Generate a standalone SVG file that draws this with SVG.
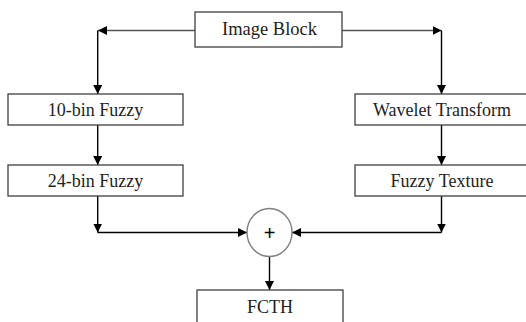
<svg xmlns="http://www.w3.org/2000/svg" width="526" height="322" viewBox="0 0 526 322">
<defs>
<style>
.box{fill:#fff;stroke:#404040;stroke-width:1.3}
.lbl{font-family:"Liberation Serif","Times New Roman",serif;font-size:18px;fill:#1e1e1e;text-anchor:middle}
.ln{fill:none;stroke:#000;stroke-width:1.4}
.lg{fill:none;stroke:#555;stroke-width:1.4}
</style>
<marker id="ah" markerWidth="9" markerHeight="9" refX="9" refY="4.5" orient="auto" markerUnits="userSpaceOnUse">
<path d="M0,0 L9,4.5 L0,9 Z" fill="#000"/>
</marker>
</defs>
<rect width="526" height="322" fill="#fff"/>
<g id="connectors">
<path class="lg" d="M195,30.5 H98" marker-end="url(#ah)"/>
<path class="lg" d="M342,30.5 H441.5" marker-end="url(#ah)"/>
<path class="ln" d="M97.7,30.5 V94" marker-end="url(#ah)"/>
<path class="ln" d="M441.5,30.5 V94" marker-end="url(#ah)"/>
<path class="ln" d="M97.7,125 V165" marker-end="url(#ah)"/>
<path class="ln" d="M441.5,125 V165" marker-end="url(#ah)"/>
<path class="ln" d="M97.7,196 V232.5" marker-end="url(#ah)"/>
<path class="ln" d="M441.5,196 V232.5" marker-end="url(#ah)"/>
<path class="ln" d="M97.7,232.5 H247" marker-end="url(#ah)"/>
<path class="ln" d="M441.5,232.5 H292" marker-end="url(#ah)"/>
<path class="ln" d="M269.5,256.5 V290" marker-end="url(#ah)"/>
</g>
<g id="image-block">
<rect class="box" x="195" y="12" width="147" height="35"/>
<text class="lbl" x="269.5" y="34.5" style="font-size:18.5px">Image Block</text>
</g>
<g id="bin10">
<rect class="box" x="8" y="94" width="175" height="31"/>
<text class="lbl" x="95.5" y="115.5">10-bin Fuzzy</text>
</g>
<g id="wavelet">
<rect class="box" x="355" y="94" width="175" height="31"/>
<text class="lbl" x="442" y="115.5">Wavelet Transform</text>
</g>
<g id="bin24">
<rect class="box" x="8" y="165" width="175" height="31"/>
<text class="lbl" x="95.5" y="187">24-bin Fuzzy</text>
</g>
<g id="fuzzy-texture">
<rect class="box" x="355" y="165" width="175" height="31"/>
<text class="lbl" x="442" y="187">Fuzzy Texture</text>
</g>
<g id="sum">
<ellipse cx="269.5" cy="232.5" rx="22.5" ry="24" fill="#fff" stroke="#808080" stroke-width="1.4"/>
<text x="269.5" y="239.5" style="font-family:'Liberation Sans',Arial,sans-serif;font-size:20px;fill:#000;text-anchor:middle">+</text>
</g>
<g id="fcth">
<rect class="box" x="197" y="290" width="146" height="40"/>
<text class="lbl" x="270" y="312.5">FCTH</text>
</g>
</svg>
